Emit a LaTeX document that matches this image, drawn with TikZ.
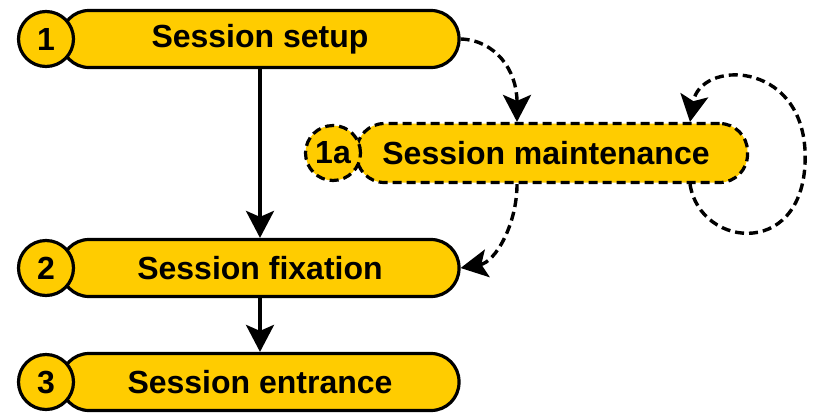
\documentclass[tikz,border=0pt]{standalone}
\usepackage{fontspec}
\setmainfont{Liberation Sans}
\usetikzlibrary{arrows.meta}
\definecolor{pillyellow}{HTML}{FFCC00}
\begin{document}
\begin{tikzpicture}[x=1pt,y=-1pt,
  pill/.style={draw, fill=pillyellow, line width=3.2pt, rounded corners=28pt,
    minimum width=398pt, minimum height=57pt, inner sep=0pt,
    font=\fontsize{32}{38}\selectfont\bfseries},
  numc/.style={draw, fill=pillyellow, line width=3.2pt, circle, minimum size=55pt, inner sep=0pt,
    font=\fontsize{32}{38}\selectfont\bfseries},
  dsh/.style={dash pattern=on 9pt off 5pt},
  conn/.style={line width=3.4pt, -{Stealth[length=27pt,width=28pt,inset=6pt]}}
]
\path[use as bounding box, fill=white] (0,0) rectangle (813,413);
% main pills
\node[pill] (p1) at (260,39) {Session setup};
\node[numc] (c1) at (46,39) {1};
\node[pill] (p2) at (260,268) {Session fixation};
\node[numc] (c2) at (46,268) {2};
\node[pill] (p3) at (260,382) {Session entrance};
\node[numc] (c3) at (46,382) {3};
% maintenance
\node[pill, dsh, minimum width=391pt, minimum height=59pt] (p1a) at (552,153) {\hspace*{-12pt}Session maintenance};
\node[numc, dsh] (c1a) at (333,153) {1a};
% solid connectors
\draw[conn] (p1.south) -- (p2.north);
\draw[conn] (p2.south) -- (p3.north);
% dashed connectors
\draw[conn, dsh] (p1.east) .. controls (495,40) and (517,70) .. ([xshift=-35pt]p1a.north);
\draw[conn, dsh] ([xshift=-35pt]p1a.south) .. controls (517,225) and (495,262) .. (p2.east);
\draw[conn, dsh] ([xshift=138pt]p1a.south) .. controls (700,250) and (810,260) .. (805,150)
  .. controls (800,60) and (700,60) .. ([xshift=138pt]p1a.north);
\end{tikzpicture}
\end{document}
